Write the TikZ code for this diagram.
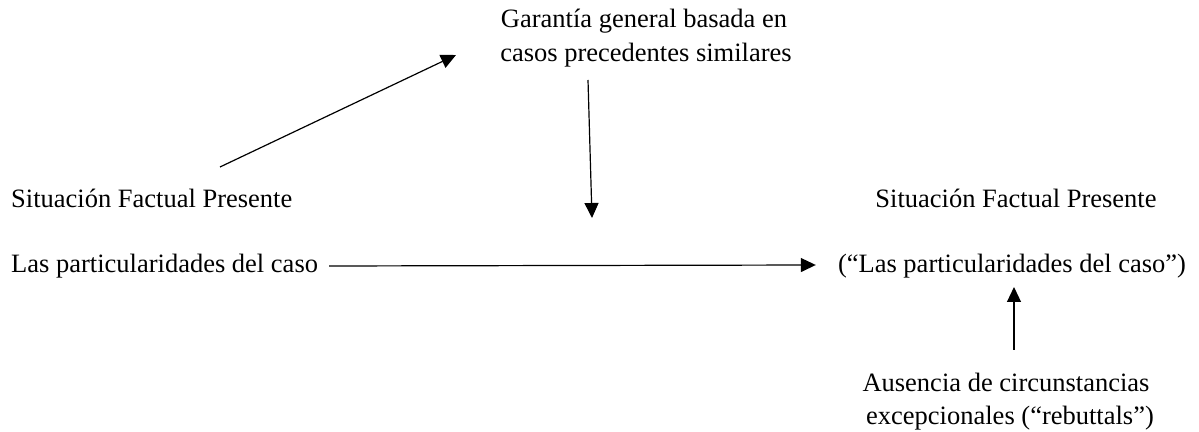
\documentclass[tikz,border=0pt]{standalone}
\usepackage{fontspec}
\setmainfont{Liberation Serif}
\usetikzlibrary{arrows.meta}
\begin{document}
\begin{tikzpicture}[x=1pt,y=1pt,
  txt/.style={inner sep=0pt,font=\fontsize{26.5}{34}\selectfont},
  conn/.style={line width=1.2pt,-{Triangle[length=15pt,width=14pt]}}]
\useasboundingbox (0,0) rectangle (1199,431);
% texts (y = 431 - pixel y of baseline)
\node[txt,anchor=base west] (sfpL) at (11,223) {Situación Factual Presente};
\node[txt,anchor=base west] (lpcL) at (11,158) {Las particularidades del caso};
\node[txt,anchor=base] (sfpR) at (1016,223) {Situación Factual Presente};
\node[txt,anchor=base] (lpcR) at (1012,158) {(“Las particularidades del caso”)};
\node[txt,anchor=base] (gar1) at (644,403) {Garantía general basada en};
\node[txt,anchor=base] (gar2) at (646,369) {casos precedentes similares};
\node[txt,anchor=base] (aus1) at (1006,39) {Ausencia de circunstancias};
\node[txt,anchor=base] (aus2) at (1010,7) {excepcionales (“rebuttals”)};
% connector end points
\coordinate (dA) at (220,264);
\coordinate (dB) at (456,376);
\coordinate (vA) at (588,351);
\coordinate (vB) at (592,213);
\coordinate (uA) at (1014,81);
\coordinate (uB) at (1014,144);
\draw[conn] (dA) -- (dB);
\draw[conn] (vA) -- (vB);
\draw[conn] ([xshift=11pt,yshift=7pt]lpcL.base east) -- ([xshift=-22pt,yshift=8pt]lpcR.base west);
\draw[conn] (uA) -- (uB);
\end{tikzpicture}
\end{document}
